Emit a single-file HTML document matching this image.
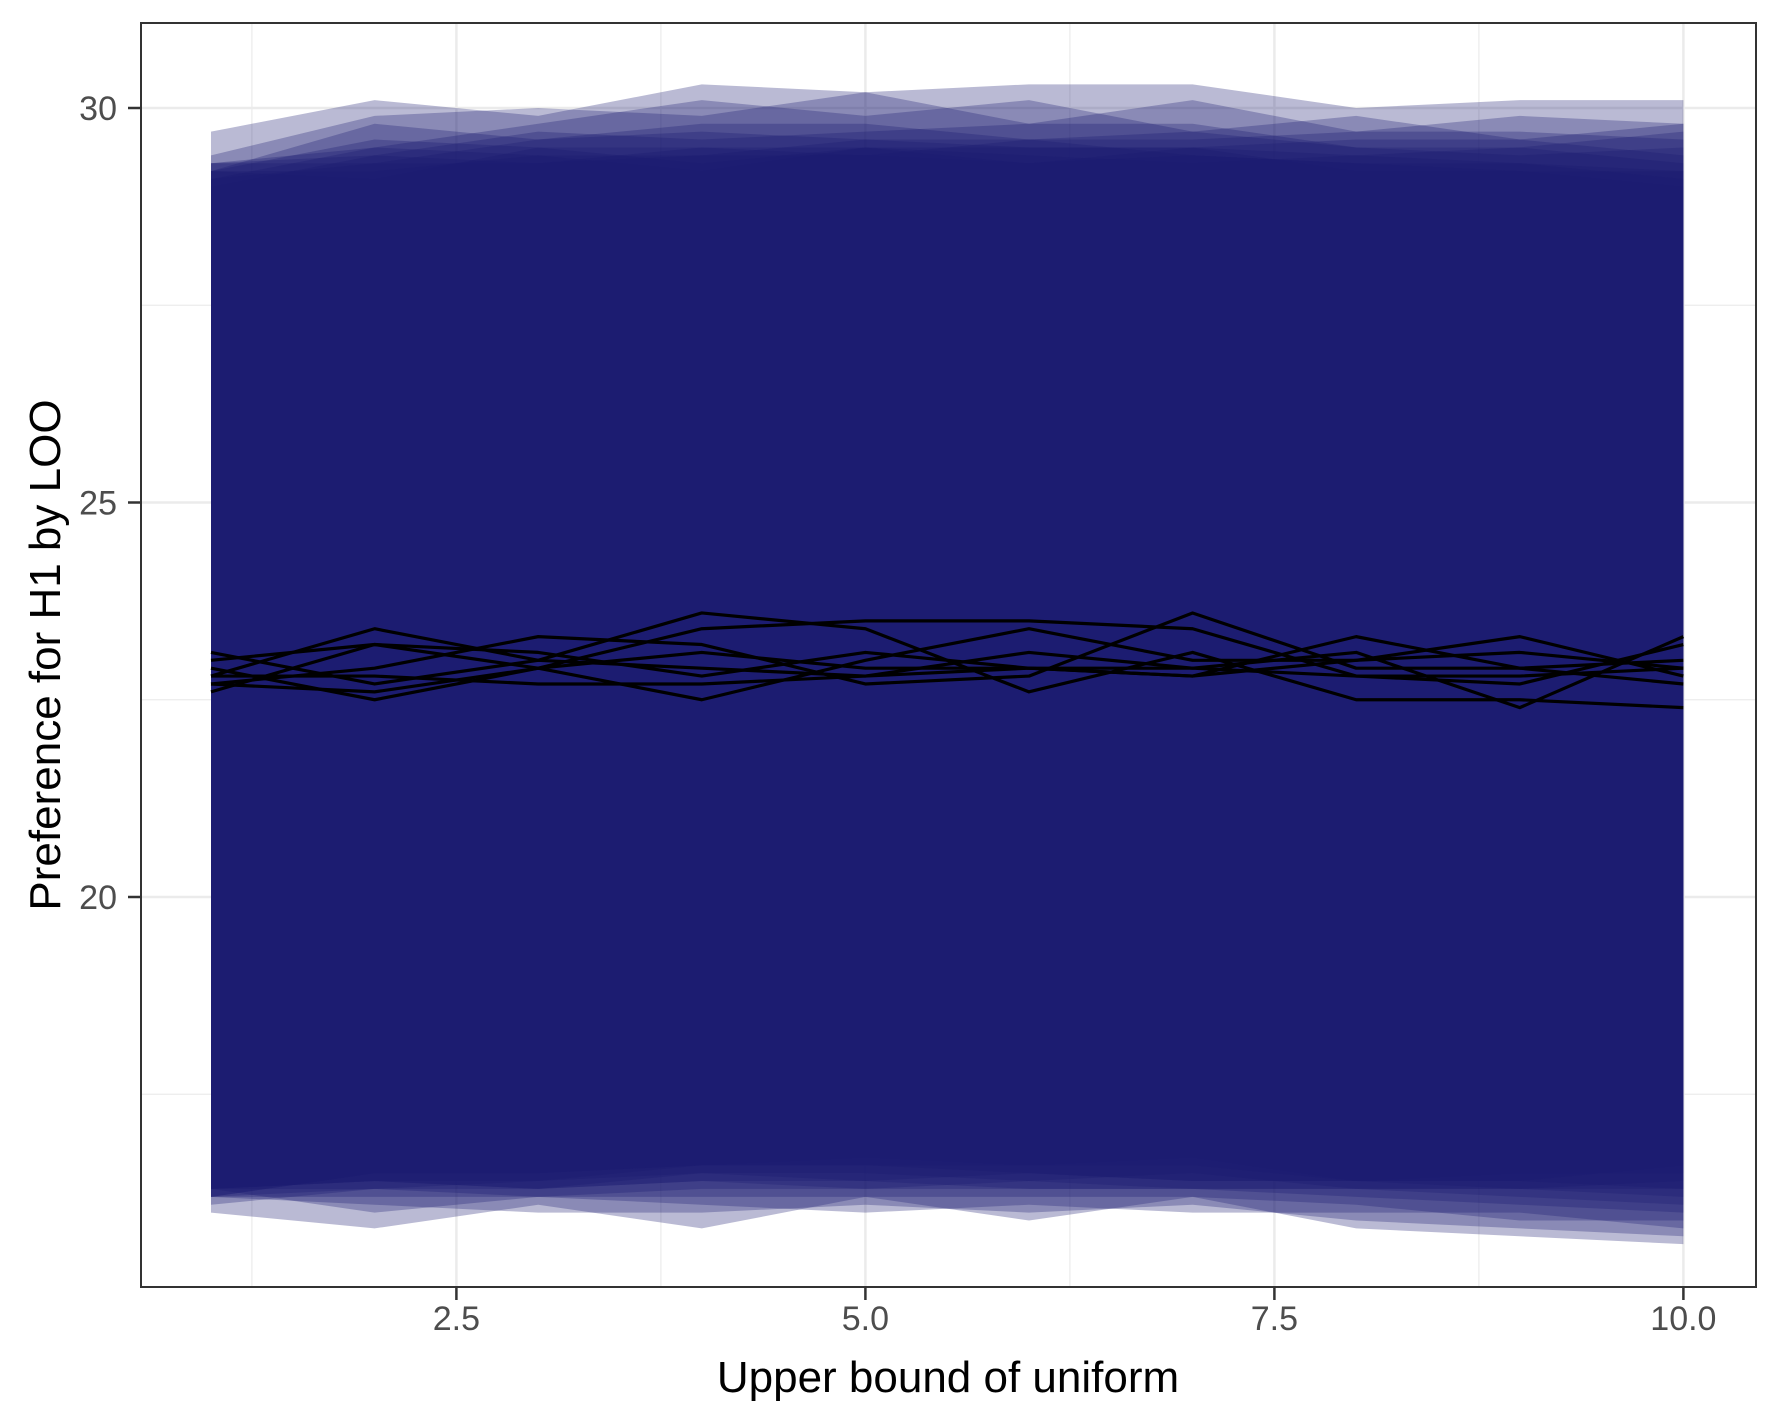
<!DOCTYPE html>
<html><head><meta charset="utf-8"><style>
html,body{margin:0;padding:0;background:#fff;}
svg text{font-family:"Liberation Sans",Arial,sans-serif;}
</style></head><body>
<svg id="chart" width="1771" height="1417" xmlns="http://www.w3.org/2000/svg">
<rect x="0" y="0" width="1771" height="1417" fill="#fff"/>
<g id="grid"></g>
<g id="ribbons"></g>
<g id="lines"></g>
<rect x="141" y="23" width="1615" height="1264" fill="none" stroke="#333" stroke-width="2"/>
<g id="axes"></g>
<text x="948" y="1392" font-size="44" text-anchor="middle" fill="#000">Upper bound of uniform</text>
<text transform="translate(60,655) rotate(-90)" font-size="44" text-anchor="middle" fill="#000">Preference for H1 by LOO</text>
</svg>
<script>
const xs = [1,2,3,4,5,6,7,8,9,10];
const xTicks = [2.5,5.0,7.5,10.0];
const xTickLabels = ["2.5","5.0","7.5","10.0"];
const xMinor = [1.25,3.75,6.25,8.75];
const yTicks = [20,25,30];
const yTickLabels = ["20","25","30"];
const yMinor = [17.5,22.5,27.5];

const line1 = [22.8,23.4,23.0,22.9,22.8,22.9,22.8,23.3,22.9,23.0];
const line2 = [23.1,22.7,23.0,23.6,23.4,22.6,23.1,22.5,22.5,22.4];
const line3 = [22.6,23.2,22.9,23.4,23.5,23.5,23.4,22.8,22.7,23.2];
const line4 = [22.9,22.5,22.9,22.5,23.0,23.4,23.0,23.0,23.3,22.8];
const line5 = [22.7,22.9,23.3,23.2,22.7,22.8,23.6,22.9,22.9,22.7];
const line6 = [22.8,22.8,22.7,22.7,22.8,23.1,22.9,23.1,22.4,23.3];
const line7 = [23.0,23.2,23.1,22.8,23.1,22.9,22.8,23.0,23.1,22.9];
const line8 = [22.7,22.6,22.9,23.1,22.9,22.9,22.9,22.8,22.8,22.9];

const upper1 = [29.7,30.1,29.9,30.3,30.2,30.3,30.3,30.0,30.1,30.1];
const upper2 = [29.4,29.9,30.0,29.9,30.2,29.8,30.1,29.7,29.9,29.8];
const upper3 = [29.3,29.5,29.8,30.1,29.9,30.1,29.7,29.9,29.6,29.8];
const upper4 = [29.2,29.8,29.6,29.8,29.8,29.6,29.6,29.7,29.7,29.6];
const upper5 = [29.3,29.4,29.7,29.6,29.7,29.8,29.8,29.5,29.5,29.7];
const upper6 = [29.2,29.6,29.5,29.5,29.5,29.5,29.5,29.6,29.6,29.4];
const upper7 = [29.3,29.3,29.6,29.7,29.6,29.6,29.7,29.5,29.4,29.5];
const upper8 = [29.1,29.5,29.4,29.4,29.6,29.5,29.5,29.4,29.5,29.3];
const upper9 = [29.2,29.1,29.5,29.3,29.5,29.3,29.5,29.2,29.2,29.2];
const upper10 = [29.0,29.4,29.3,29.5,29.4,29.6,29.4,29.3,29.3,29.2];
const upper11 = [29.2,29.2,29.4,29.2,29.5,29.4,29.3,29.4,29.3,29.1];
const upper12 = [29.1,29.3,29.3,29.4,29.4,29.3,29.4,29.3,29.2,29.0];

const lower1 = [16.0,15.8,16.1,15.8,16.2,15.9,16.2,15.8,15.7,15.6];
const lower2 = [16.2,16.1,16.0,16.0,16.1,16.0,16.1,15.9,15.8,15.7];
const lower3 = [16.3,16.0,16.2,16.1,16.0,16.1,16.0,16.0,16.0,15.8];
const lower4 = [16.2,16.2,16.2,16.2,16.2,16.2,16.2,16.1,15.9,15.9];
const lower5 = [16.3,16.3,16.2,16.3,16.3,16.3,16.3,16.2,16.1,16.0];
const lower6 = [16.1,16.3,16.3,16.4,16.3,16.4,16.3,16.3,16.2,16.1];
const lower7 = [16.3,16.4,16.3,16.4,16.4,16.3,16.3,16.3,16.3,16.2];
const lower8 = [16.2,16.3,16.4,16.5,16.5,16.4,16.5,16.3,16.3,16.3];
const lower9 = [16.3,16.4,16.3,16.5,16.4,16.5,16.4,16.4,16.3,16.4];
const lower10 = [16.2,16.5,16.5,16.6,16.6,16.5,16.4,16.4,16.4,16.3];
const lower11 = [16.3,16.4,16.4,16.6,16.6,16.6,16.6,16.4,16.5,16.5];
const lower12 = [16.2,16.5,16.5,16.6,16.7,16.6,16.7,16.4,16.4,16.6];

const uppers = [upper1,upper2,upper3,upper4,upper5,upper6,upper7,upper8,upper9,upper10,upper11,upper12];
const lowers = [lower1,lower2,lower3,lower4,lower5,lower6,lower7,lower8,lower9,lower10,lower11,lower12];
const lines = [line1,line2,line3,line4,line5,line6,line7,line8];

const X0=141,X1=1756,Y0=23,Y1=1287;
function xScale(v){return 211 + (v-1)*163.6;}
function yScale(v){return 897 - (v-20)*78.9;}
const NS="http://www.w3.org/2000/svg";
function mk(tag,attrs,parent){const e=document.createElementNS(NS,tag);for(const k in attrs)e.setAttribute(k,attrs[k]);parent.appendChild(e);return e;}

const grid=document.getElementById('grid');
xMinor.forEach(v=>{const l=mk('line',{x1:xScale(v),x2:xScale(v),y1:Y0,y2:Y1,stroke:'#ebebeb','stroke-width':1.2},grid);

});
yMinor.forEach(v=>{const l=mk('line',{x1:X0,x2:X1,y1:yScale(v),y2:yScale(v),stroke:'#ebebeb','stroke-width':1.2},grid);

});
xTicks.forEach(v=>{const l=mk('line',{x1:xScale(v),x2:xScale(v),y1:Y0,y2:Y1,stroke:'#ebebeb','stroke-width':2.5},grid);

});
yTicks.forEach(v=>{const l=mk('line',{x1:X0,x2:X1,y1:yScale(v),y2:yScale(v),stroke:'#ebebeb','stroke-width':2.5},grid);

});

const rg=document.getElementById('ribbons');
uppers.forEach((up,i)=>{
  const lo=lowers[i];
  let pts=xs.map((x,j)=>xScale(x)+','+yScale(up[j]));
  pts=pts.concat(xs.slice().reverse().map((x,k)=>{const j=xs.length-1-k;return xScale(x)+','+yScale(lo[j]);}));
  const p=mk('polygon',{points:pts.join(' '),fill:'#191970','fill-opacity':0.3},rg);
  
  
});

const lg=document.getElementById('lines');
lines.forEach((ln,i)=>{
  const p=mk('polyline',{points:xs.map((x,j)=>xScale(x)+','+yScale(ln[j])).join(' '),fill:'none',stroke:'#000','stroke-width':3.2,'stroke-linejoin':'round'},lg);
  
  
});

const ax=document.getElementById('axes');
xTicks.forEach((v,i)=>{
  const t=mk('line',{x1:xScale(v),x2:xScale(v),y1:Y1,y2:Y1+13,stroke:'#333','stroke-width':2.5},ax);
  
  
  const tx=mk('text',{x:xScale(v),y:1330,'font-size':34,'text-anchor':'middle',fill:'#4d4d4d'},ax);
  tx.textContent=xTickLabels[i];
  
  
});
yTicks.forEach((v,i)=>{
  const t=mk('line',{x1:X0-13,x2:X0,y1:yScale(v),y2:yScale(v),stroke:'#333','stroke-width':2.5},ax);
  
  
  const tx=mk('text',{x:117,y:yScale(v)+12,'font-size':34,'text-anchor':'end',fill:'#4d4d4d'},ax);
  tx.textContent=yTickLabels[i];
  
  
});
</script>
</body></html>
